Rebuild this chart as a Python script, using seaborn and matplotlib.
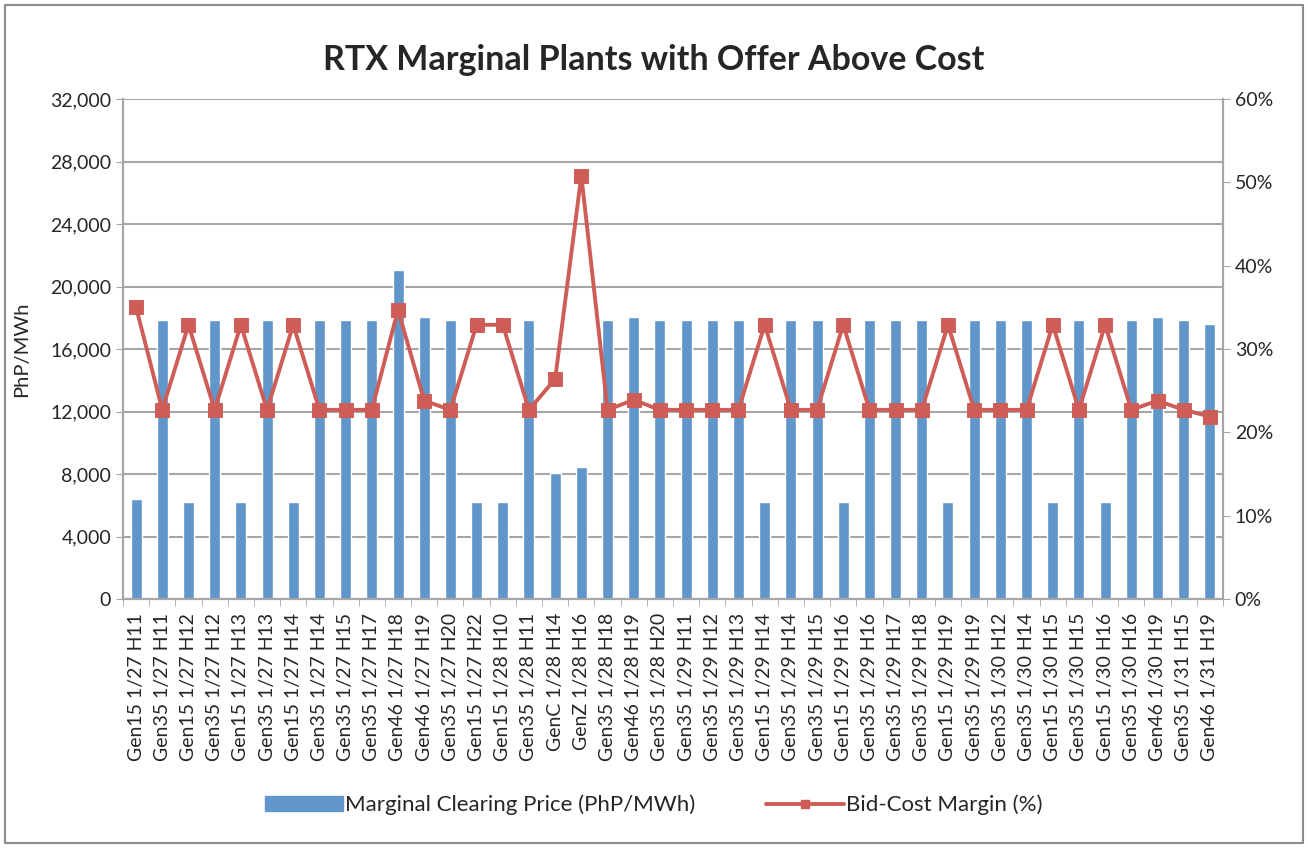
import numpy as np
import pandas as pd
import seaborn as sns
import matplotlib.pyplot as plt
from matplotlib.patches import Patch, Rectangle
from matplotlib.lines import Line2D
from matplotlib.ticker import FuncFormatter, FixedLocator

# data
labels = [
    "Gen15 1/27 H11", "Gen35 1/27 H11", "Gen15 1/27 H12", "Gen35 1/27 H12",
    "Gen15 1/27 H13", "Gen35 1/27 H13", "Gen15 1/27 H14", "Gen35 1/27 H14",
    "Gen35 1/27 H15", "Gen35 1/27 H17", "Gen46 1/27 H18", "Gen46 1/27 H19",
    "Gen35 1/27 H20", "Gen15 1/27 H22", "Gen15 1/28 H10", "Gen35 1/28 H11",
    "GenC 1/28 H14", "GenZ 1/28 H16", "Gen35 1/28 H18", "Gen46 1/28 H19",
    "Gen35 1/28 H20", "Gen35 1/29 H11", "Gen35 1/29 H12", "Gen35 1/29 H13",
    "Gen15 1/29 H14", "Gen35 1/29 H14", "Gen35 1/29 H15", "Gen15 1/29 H16",
    "Gen35 1/29 H16", "Gen35 1/29 H17", "Gen35 1/29 H18", "Gen15 1/29 H19",
    "Gen35 1/29 H19", "Gen35 1/30 H12", "Gen35 1/30 H14", "Gen15 1/30 H15",
    "Gen35 1/30 H15", "Gen15 1/30 H16", "Gen35 1/30 H16", "Gen46 1/30 H19",
    "Gen35 1/31 H15", "Gen46 1/31 H19",
]
price = [
    6400, 17850, 6200, 17850, 6200, 17850, 6200, 17850, 17850, 17850,
    21050, 18050, 17850, 6200, 6200, 17850, 8050, 8450, 17850, 18050,
    17850, 17850, 17850, 17850, 6200, 17850, 17850, 6200, 17850, 17850,
    17850, 6200, 17850, 17850, 17850, 6200, 17850, 6200, 17850, 18050,
    17850, 17600,
]
margin = [
    35.0, 22.7, 32.9, 22.7, 32.9, 22.7, 32.9, 22.7, 22.7, 22.7,
    34.7, 23.8, 22.7, 32.9, 32.9, 22.7, 26.4, 50.8, 22.7, 23.9,
    22.7, 22.7, 22.7, 22.7, 32.9, 22.7, 22.7, 32.9, 22.7, 22.7,
    22.7, 32.9, 22.7, 22.7, 22.7, 32.9, 22.7, 32.9, 22.7, 23.8,
    22.7, 21.9,
]
left_ticks = [0, 4000, 8000, 12000, 16000, 20000, 24000, 28000, 32000]
right_ticks = [0, 10, 20, 30, 40, 50, 60]

bar_color = "#6096C9"
line_color = "#CD5D56"
grid_color = "#A6A6A6"

sns.set_style("white")
plt.rcParams["font.family"] = ["Lato", "DejaVu Sans"]

df = pd.DataFrame({"label": labels, "price": price, "margin": margin})

fig = plt.figure(figsize=(13.08, 8.48), dpi=100)
ax = fig.add_axes([123 / 1308, 1 - 599 / 848, 1100 / 1308, 500 / 848])

sns.barplot(data=df, x="label", y="price", order=labels, color=bar_color,
            width=0.42, saturation=1, ax=ax, zorder=2)
ax.set_ylim(0, 32000)
ax.set_xlim(-0.5, len(labels) - 0.5)
ax.yaxis.set_major_locator(FixedLocator(left_ticks))
ax.yaxis.set_major_formatter(FuncFormatter(lambda v, p: f"{int(v):,}"))
ax.grid(axis="y", color=grid_color, linewidth=1.5, zorder=0)
ax.set_axisbelow(True)
ax.set_xlabel("")
ax.set_ylabel("PhP/MWh", fontsize=14.5, labelpad=14)
ax.tick_params(axis="y", labelsize=14, length=5, color=grid_color, direction="out", left=True)
ax.tick_params(axis="x", labelsize=14, rotation=90, length=0, pad=10)
# category-boundary tick marks
ax.set_xticks(np.arange(-0.5, len(labels)), minor=True)
ax.tick_params(axis="x", which="minor", length=5, color=grid_color, direction="out", bottom=True)

ax2 = ax.twinx()
sns.pointplot(data=df, x="label", y="margin", order=labels, color=line_color,
              markers="s", markersize=8, linewidth=2.8, ax=ax2, zorder=3)
ax2.set_ylim(0, 60)
ax2.yaxis.set_major_locator(FixedLocator(right_ticks))
ax2.yaxis.set_major_formatter(FuncFormatter(lambda v, p: f"{int(v)}%"))
ax2.set_ylabel("")
ax2.tick_params(axis="y", labelsize=14, length=5, color=grid_color, direction="out", right=True)
ax2.grid(False)

for a in (ax, ax2):
    a.spines["top"].set_visible(False)
    for s in ("left", "right", "bottom"):
        a.spines[s].set_color(grid_color)
        a.spines[s].set_linewidth(1.5)

fig.suptitle("RTX Marginal Plants with Offer Above Cost", fontsize=24.5,
             fontweight="bold", y=1 - 60 / 848, va="center")

handles = [
    Patch(facecolor=bar_color, edgecolor=bar_color),
    Line2D([0], [0], color=line_color, linewidth=2.8, marker="s", markersize=6),
]
fig.legend(handles, ["Marginal Clearing Price (PhP/MWh)", "Bid-Cost Margin (%)"],
           loc="center", bbox_to_anchor=(0.5, 1 - 805 / 848), ncol=2, frameon=False,
           fontsize=16, handlelength=3.5, handletextpad=0.1, columnspacing=3.2)

fig.patches.append(Rectangle((5 / 1308, 5 / 848), 1298 / 1308, 838 / 848,
                             transform=fig.transFigure, fill=False,
                             edgecolor="#8C8C8C", linewidth=1.5))

fig.savefig("out.png", dpi=100)
